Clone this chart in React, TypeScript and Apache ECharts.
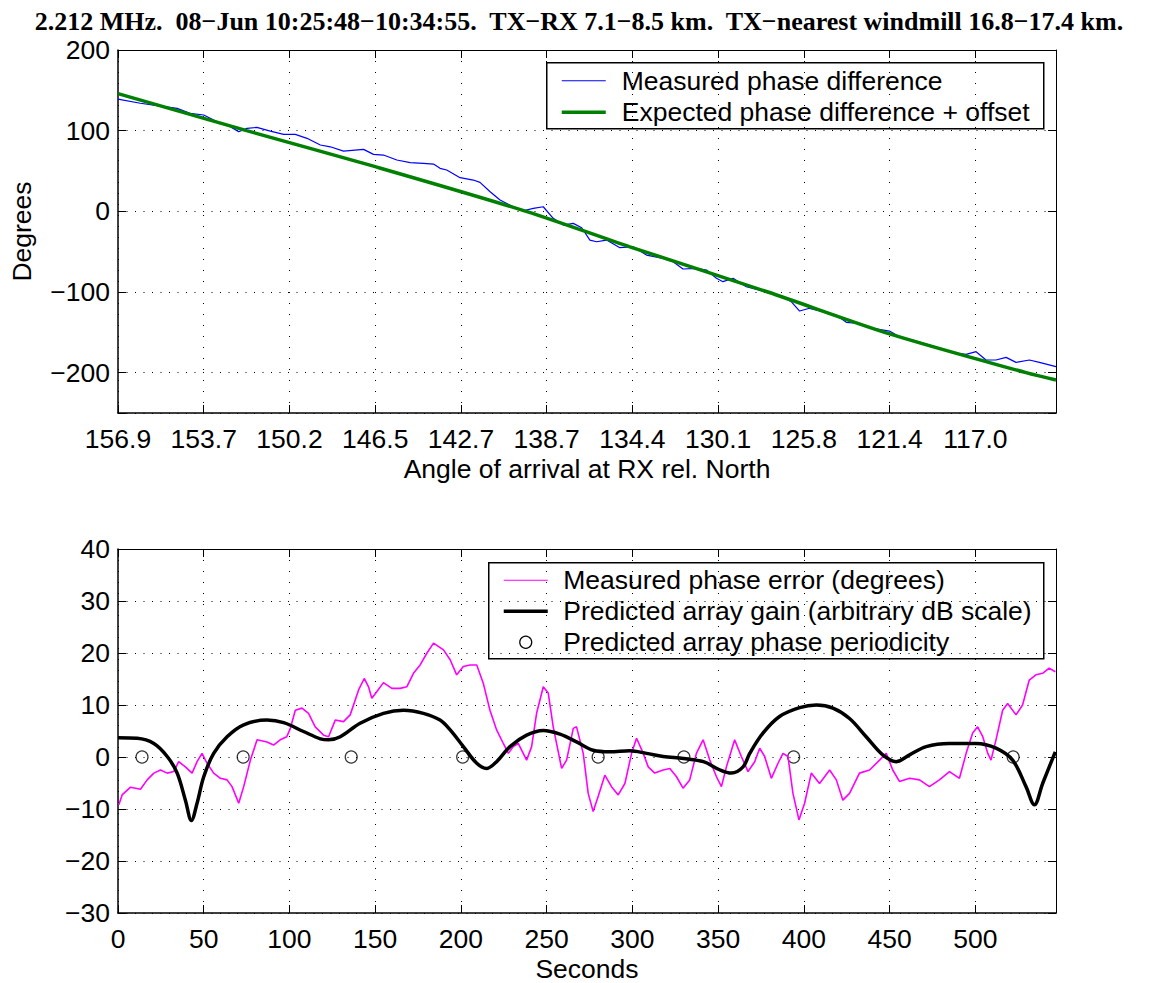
import React, { useEffect, useRef } from 'react';
import * as echarts from 'echarts';

const TITLE = '2.212 MHz.  08\u2212Jun 10:25:48\u221210:34:55.  TX\u2212RX 7.1\u22128.5 km.  TX\u2212nearest windmill 16.8\u221217.4 km.';
const SECONDS_MAX = 547;
const angleTickLabels = ['156.9', '153.7', '150.2', '146.5', '142.7', '138.7', '134.4', '130.1', '125.8', '121.4', '117.0'];

// [seconds, degrees]
const measuredPhaseDiff: [number, number][] = [
  [0, 139], [13, 134], [24.8, 130.5], [34.5, 127.7], [42, 121.5], [50, 119.4], [57.8, 111], [65.5, 105],
  [70.4, 98.7], [75.2, 102.9], [81, 104], [88.8, 99.5], [96.6, 95.4], [103.4, 95.4], [110.2, 90.5], [118, 82.2],
  [123.8, 80], [131.5, 74.7], [143.2, 76.8], [149, 70.6], [154.8, 69.8], [162.6, 63.6], [170.4, 60.3], [178.1, 59.5],
  [184, 58.6], [187.8, 53.3], [191.7, 51.2], [199.5, 41.7], [207.2, 38.8], [211.1, 35.9], [217, 24.3], [222.8, 14],
  [230.5, 5.7], [236.3, 0.7], [242.2, 3.7], [248, 5.7], [253.8, -8.7], [259.7, -17], [265.5, -14.9], [270.4, -20.3],
  [275.2, -35.6], [279.1, -37.7], [284.9, -35.6], [292.7, -45.1], [300.4, -43.9], [308.2, -54.2], [317.9, -58.3],
  [323.7, -62.5], [329.5, -71.5], [337.3, -70.7], [343.2, -72.8], [349, -83], [352.8, -87.2], [358.7, -83],
  [366.4, -93.5], [374.2, -97.6], [380, -101.7], [387.8, -105.9], [392.6, -112], [397.5, -123.6], [403.3, -120.2],
  [411.1, -124.4], [418.9, -128.5], [424.7, -137.6], [432.4, -138.8], [440.2, -145], [449.9, -148.4], [455.7, -155.4],
  [465.5, -160.8], [473.2, -165.7], [481, -170.7], [488.7, -176], [494.6, -177.3], [500.4, -174], [506.2, -184.3],
  [512, -184.3], [517.9, -181], [523.7, -187.2], [531.5, -184.3], [537.3, -187.2], [547, -192.6],
];

const expectedPhaseDiff: [number, number][] = [
  [0, 146], [75, 100], [149, 56], [238, 0], [298.5, -44], [379, -100], [450, -152], [529.5, -200], [547, -209],
];

const measuredPhaseError: [number, number][] = [
  [0.5, -9.2], [2.4, -7.3], [7.3, -5.8], [13.1, -6.2], [17, -4.4], [20.9, -3.1], [24.8, -2.5], [28.7, -3.1],
  [32.5, -2.8], [35.4, -0.9], [39.3, -1.9], [43.2, -3.1], [46.1, -0.9], [49, 0.7], [51.9, -1.2], [55.8, -3.1],
  [59.7, -4.1], [63.6, -4.4], [66.5, -5.7], [70.4, -8.9], [73.3, -5.7], [77.2, -0.6], [81.1, 3.3], [86.9, 2.9],
  [90.7, 2.3], [94.6, 3.3], [98.4, 3.9], [100.5, 5.5], [103.4, 9], [107.3, 9.4], [111.1, 8.4], [115, 5.8],
  [119.9, 4.2], [122.8, 3.9], [126.7, 7.1], [131.5, 6.8], [135.4, 8.1], [140.3, 12.9], [143.6, 15.1], [146.1, 13.5],
  [148, 11.3], [151, 12.6], [154.8, 14.3], [159.7, 13.2], [164.5, 13.2], [168.4, 13.5], [172.3, 16.1], [176.2, 17.7],
  [180, 19.9], [184, 21.9], [189.8, 20.6], [193.7, 18.7], [197.5, 15.8], [201.4, 17.4], [205.3, 17.7], [209.2, 17.7],
  [213, 14.2], [216.9, 9], [220.8, 5.2], [224.7, 2.6], [227.6, 0.7], [230.5, 2], [233.4, 2.6], [238.3, -0.6],
  [241.2, 2], [244.1, 8.4], [248, 13.5], [250.9, 12.3], [253.8, 5.8], [258.7, -2.2], [261.6, -0.6], [265.5, 5.5],
  [267.4, 5.8], [271.3, 0.7], [274.2, -7], [277.1, -10.5], [280, -7.6], [283.9, -3.5], [287.8, -5.7], [291.7, -7.3],
  [295.6, -5.1], [299.5, 0.7], [302.4, 3.6], [306.3, 0.7], [309.2, -1.9], [313, -3.1], [317.9, -2.5], [321.8, -2.2],
  [325.7, -3.8], [329.5, -6], [333.4, -4.4], [337.3, 0.7], [341.2, 3.3], [345.1, -0.6], [349, -3.8], [351.9, -5.7],
  [354.8, -1.9], [359.6, 3.3], [363.5, 0.1], [367.4, -2.8], [371.3, -0.9], [374.2, 1.7], [377.1, 0.1], [381, -4.1],
  [384.9, -1.2], [387.8, 0.7], [390.7, 0.1], [393.6, -7], [397.1, -12.1], [400.4, -8.9], [404.3, -3.1], [409.1, -5.1],
  [415, -2.5], [418.9, -4.4], [422.7, -8.3], [426.6, -7], [432.4, -3.1], [438.3, -2.5], [444.1, -0.6], [448, 0.7],
  [451.8, -2.5], [455.7, -4.7], [461.6, -4.1], [467.4, -4.4], [473.2, -5.7], [479, -4.4], [484.9, -2.8], [490.7, -4.1],
  [494.6, 0.7], [498.4, 4.6], [501.3, 5.8], [504.3, 3.9], [507.2, 0.7], [509.1, -0.6], [512, 3.3], [515.9, 9],
  [518.8, 10.3], [523.7, 8.1], [527.5, 10], [531.4, 14.8], [535.3, 15.8], [539.2, 16.1], [543, 17.1], [546.6, 16.4],
];

const predictedGain: [number, number][] = [
  [0, 3.7], [11.2, 3.6], [20.9, 2.6], [28.7, 0.1], [34.5, -3.1], [39.3, -8.3], [42.8, -12.2], [46.1, -8.9],
  [50, -3.8], [55.8, 0.7], [63.6, 3.9], [73.3, 6.2], [86.9, 7.1], [96.6, 6.6], [108.2, 4.9], [118, 3.5],
  [122.8, 3.3], [129.6, 3.9], [141.2, 6.5], [154.8, 8.4], [166.5, 9], [178.1, 8.4], [187.8, 7.1], [193.7, 5.2],
  [201.4, 2], [209.2, -1.2], [215, -2.2], [220.8, -0.9], [228.6, 2], [238.3, 4.2], [248, 5.1], [257.7, 4.4],
  [267.4, 2.9], [277.1, 1.3], [286.8, 1], [298.5, 1.2], [308.2, 0.7], [317.9, 0.1], [329.8, -0.3], [341.4, -0.9],
  [351.1, -2.5], [357.7, -3.1], [364.5, -1.9], [368.4, 0.7], [376.1, 4.6], [385.8, 7.8], [397.5, 9.5], [407.2, 10],
  [416.9, 9.4], [426.6, 7.4], [436.3, 3.9], [446, 0.4], [453.8, -0.9], [461.6, 0.4], [471.3, 2], [484.8, 2.6],
  [500.4, 2.6], [512, 1.7], [521.7, -0.6], [529.5, -5.7], [534.4, -9.2], [539.2, -5.1], [546.6, 1],
];

const periodicityPoints: [number, number][] = [
  [14, 0], [73, 0], [136, 0], [201, 0], [280, 0], [330, 0], [394, 0], [522, 0],
];

const SANS = "'Liberation Sans', Arial, Helvetica, sans-serif";
const SERIF = "'Liberation Serif', 'Times New Roman', serif";
const FS = 26.5;
const minus = (v: number) => String(v).replace('-', '\u2212');

function mainX(gridIndex: number, labels: (v: number) => string, name: string) {
  return {
    type: 'value', gridIndex, position: 'bottom', min: 0, max: SECONDS_MAX, interval: 50,
    axisLine: { show: true, onZero: false, lineStyle: { color: '#000', width: 1.5 } },
    axisTick: { show: true, inside: true, length: 8, lineStyle: { color: '#000', width: 1 } },
    axisLabel: { formatter: labels, color: '#000', fontSize: FS, fontFamily: SANS, margin: 12 },
    splitLine: { show: true, lineStyle: { color: '#000', width: 1, type: [1, 10] } },
    name, nameLocation: 'middle', nameGap: 42,
    nameTextStyle: { color: '#000', fontSize: FS, fontFamily: SANS },
  };
}
function topX(gridIndex: number) {
  return {
    type: 'value', gridIndex, position: 'top', min: 0, max: SECONDS_MAX, interval: 50,
    axisLine: { show: true, onZero: false, lineStyle: { color: '#000', width: 1 } },
    axisTick: { show: true, inside: true, length: 8, lineStyle: { color: '#000', width: 1 } },
    axisLabel: { show: false }, splitLine: { show: false },
  };
}
function rightY(gridIndex: number, min: number, max: number, extra: any) {
  return {
    type: 'value', gridIndex, position: 'right', min, max, ...extra,
    axisLine: { show: true, onZero: false, lineStyle: { color: '#000', width: 1 } },
    axisTick: { show: true, inside: true, length: 8, lineStyle: { color: '#000', width: 1 } },
    axisLabel: { show: false }, splitLine: { show: false },
  };
}

export default function App() {
  const ref = useRef<HTMLDivElement>(null);
  useEffect(() => {
    if (!ref.current) return;
    const chart = echarts.init(ref.current, null, { renderer: 'svg' });
    const txt = { fill: '#000', fontSize: FS, fontFamily: SANS, verticalAlign: 'middle', align: 'left' };
    chart.setOption({
      animation: false,
      backgroundColor: '#fff',
      title: {
        text: TITLE, left: 'center', top: 8, padding: 0,
        textStyle: { fontFamily: SERIF, fontWeight: 'bold', fontSize: 26, color: '#000', lineHeight: 26 },
      },
      grid: [
        { left: 118, top: 50, width: 938, height: 363 },
        { left: 118, top: 549, width: 938, height: 364 },
      ],
      xAxis: [
        mainX(0, (v: number) => (v % 50 === 0 ? angleTickLabels[v / 50] : ''), 'Angle of arrival at RX rel. North'),
        topX(0),
        mainX(1, (v: number) => (v % 50 === 0 ? String(v) : ''), 'Seconds'),
        topX(1),
      ],
      yAxis: [
        {
          type: 'value', gridIndex: 0, position: 'left', min: -250, max: 200, splitNumber: 5,
          axisLine: { show: true, onZero: false, lineStyle: { color: '#000', width: 1.5 } },
          axisTick: { show: true, inside: true, length: 8, lineStyle: { color: '#000', width: 1 } },
          axisLabel: { formatter: (v: number) => (v === -250 ? '' : minus(v)), color: '#000', fontSize: FS, fontFamily: SANS, margin: 8 },
          splitLine: { show: true, lineStyle: { color: '#000', width: 1, type: [1, 7.5] } },
          name: 'Degrees', nameLocation: 'middle', nameGap: 83, nameRotate: 90,
          nameTextStyle: { color: '#000', fontSize: FS, fontFamily: SANS },
        },
        rightY(0, -250, 200, { splitNumber: 5 }),
        {
          type: 'value', gridIndex: 1, position: 'left', min: -30, max: 40, interval: 10,
          axisLine: { show: true, onZero: false, lineStyle: { color: '#000', width: 1.5 } },
          axisTick: { show: true, inside: true, length: 8, lineStyle: { color: '#000', width: 1 } },
          axisLabel: { formatter: (v: number) => minus(v), color: '#000', fontSize: FS, fontFamily: SANS, margin: 8 },
          splitLine: { show: true, lineStyle: { color: '#000', width: 1, type: [1, 7.5] } },
        },
        rightY(1, -30, 40, { interval: 10 }),
      ],
      series: [
        {
          name: 'Measured phase difference', type: 'line', xAxisIndex: 0, yAxisIndex: 0,
          data: measuredPhaseDiff, symbol: 'none', lineStyle: { color: '#0000ff', width: 1.2 },
        },
        {
          name: 'Expected phase difference + offset', type: 'line', xAxisIndex: 0, yAxisIndex: 0,
          data: expectedPhaseDiff, symbol: 'none', smooth: 0.3, lineStyle: { color: '#008000', width: 3.5 },
        },
        {
          name: 'Measured phase error (degrees)', type: 'line', xAxisIndex: 2, yAxisIndex: 2,
          data: measuredPhaseError, symbol: 'none', lineStyle: { color: '#ff00ff', width: 1.6 },
        },
        {
          name: 'Predicted array gain (arbitrary dB scale)', type: 'line', xAxisIndex: 2, yAxisIndex: 2,
          data: predictedGain, symbol: 'none', smooth: 0.35, lineStyle: { color: '#000', width: 3.5 },
        },
        {
          name: 'Predicted array phase periodicity', type: 'scatter', xAxisIndex: 2, yAxisIndex: 2,
          data: periodicityPoints, symbol: 'circle', symbolSize: 12,
          itemStyle: { color: 'rgba(0,0,0,0)', borderColor: '#000', borderWidth: 1.2 },
        },
      ],
      graphic: [
        {
          type: 'group', left: 546, top: 62, children: [
            { type: 'rect', shape: { x: 0, y: 0, width: 497, height: 66 }, style: { fill: '#fff', stroke: '#000', lineWidth: 1.5 } },
            { type: 'line', shape: { x1: 15, y1: 18, x2: 59, y2: 18 }, style: { stroke: '#0000ff', lineWidth: 1 } },
            { type: 'text', x: 75, y: 18, style: { ...txt, text: 'Measured phase difference' } },
            { type: 'line', shape: { x1: 15, y1: 49.5, x2: 59, y2: 49.5 }, style: { stroke: '#008000', lineWidth: 3.5 } },
            { type: 'text', x: 75, y: 49.5, style: { ...txt, text: 'Expected phase difference + offset' } },
          ],
        },
        {
          type: 'group', left: 488, top: 562, children: [
            { type: 'rect', shape: { x: 0, y: 0, width: 555, height: 96 }, style: { fill: '#fff', stroke: '#000', lineWidth: 1.5 } },
            { type: 'line', shape: { x1: 15, y1: 17.5, x2: 59, y2: 17.5 }, style: { stroke: '#ff00ff', lineWidth: 1 } },
            { type: 'text', x: 74.5, y: 17.5, style: { ...txt, text: 'Measured phase error (degrees)' } },
            { type: 'line', shape: { x1: 15, y1: 48.5, x2: 59, y2: 48.5 }, style: { stroke: '#000', lineWidth: 3.5 } },
            { type: 'text', x: 74.5, y: 48.5, style: { ...txt, text: 'Predicted array gain (arbitrary dB scale)' } },
            { type: 'circle', shape: { cx: 37, cy: 79.5, r: 6 }, style: { fill: 'none', stroke: '#000', lineWidth: 1.2 } },
            { type: 'text', x: 74.5, y: 79.5, style: { ...txt, text: 'Predicted array phase periodicity' } },
          ],
        },
      ],
    });
    return () => chart.dispose();
  }, []);
  return (
    <div
      ref={ref}
      style={{ position: 'fixed', left: 0, top: 0, width: 1158, height: 983, background: '#fff' }}
    />
  );
}
